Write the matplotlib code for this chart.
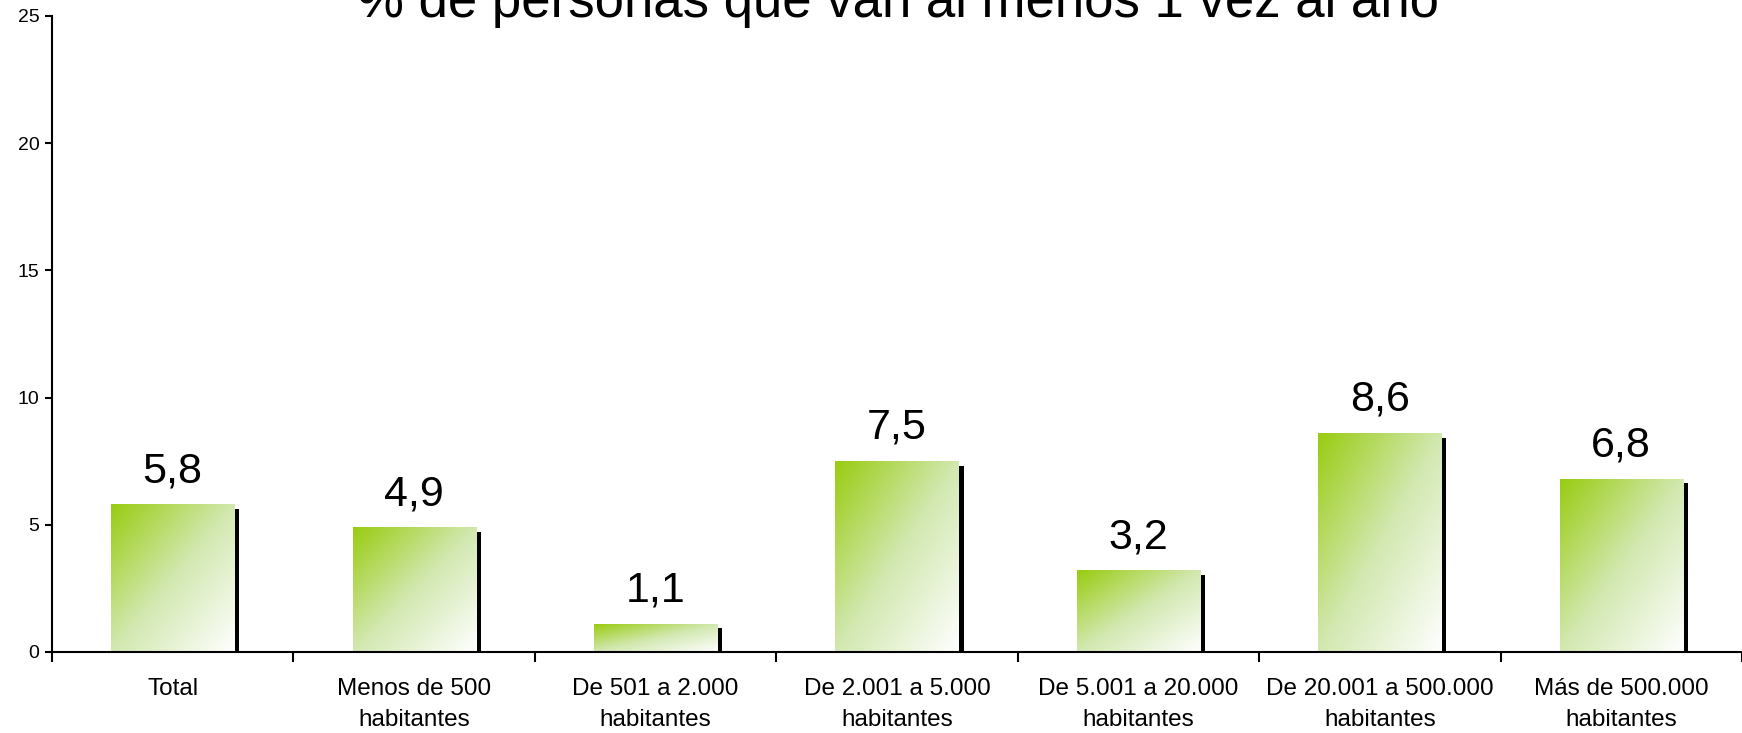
import numpy as np
import matplotlib
matplotlib.use("Agg")
import matplotlib.pyplot as plt
from matplotlib.colors import LinearSegmentedColormap

plt.rcParams['font.family'] = ['Liberation Sans', 'DejaVu Sans']

categories = ["Total", "Menos de 500\nhabitantes", "De 501 a 2.000\nhabitantes",
              "De 2.001 a 5.000\nhabitantes", "De 5.001 a 20.000\nhabitantes",
              "De 20.001 a 500.000\nhabitantes", "Más de 500.000\nhabitantes"]
values = [5.8, 4.9, 1.1, 7.5, 3.2, 8.6, 6.8]
value_labels = ["5,8", "4,9", "1,1", "7,5", "3,2", "8,6", "6,8"]
title = "% de personas que van al menos 1 vez al año"

W, H = 1742, 733
fig = plt.figure(figsize=(W / 100, H / 100), dpi=100)
ax = fig.add_axes([52 / W, 1 - 652 / H, 1 - 52 / W, (652 - 16) / H])

n = len(categories)
x = np.arange(n)
bw = 0.51

px_x = n / (W - 52)
px_y = 25 / (652 - 16)
sdx, sdy = 5.0 * px_x, 4.3 * px_y

cmap = LinearSegmentedColormap.from_list("g", ["#99cc11", "#d2e8b0", "#ffffff"])
gx, gy = np.meshgrid(np.linspace(0, 1, 200), np.linspace(0, 1, 200))
grad = (gx + gy) / 2

for xi, v, lab in zip(x, values, value_labels):
    ax.bar(xi + sdx, v - sdy, width=bw, color="black", zorder=1, linewidth=0)
    ax.imshow(grad, cmap=cmap, extent=[xi - bw / 2, xi + bw / 2, 0, v],
              aspect="auto", origin="upper", zorder=2, interpolation="bilinear")
    ax.annotate(lab, (xi, v), xytext=(0, 16), textcoords="offset points",
                ha="center", va="baseline", fontsize=31)

ax.set_aspect("auto")
ax.set_xlim(-0.5, n - 0.5)
ax.set_ylim(0, 25)

for s in ["top", "right"]:
    ax.spines[s].set_visible(False)
for s in ["left", "bottom"]:
    ax.spines[s].set_linewidth(1.5)
    ax.spines[s].set_zorder(3)

ax.set_yticks([0, 5, 10, 15, 20, 25])
ax.tick_params(axis="y", labelsize=14, length=5, width=1.5, pad=4)
ax.set_xticks(x)
ax.set_xticklabels(categories, fontsize=17.5, linespacing=1.5)
ax.set_xticks(np.arange(-0.5, n, 1.0), minor=True)
ax.tick_params(axis="x", which="major", length=0, pad=19)
ax.tick_params(axis="x", which="minor", length=7, width=1.5, direction="out")

fig.text(0.5155, 1 - 17 / H, title, ha="center", va="baseline", fontsize=38)

fig.savefig("out.png", dpi=100)
